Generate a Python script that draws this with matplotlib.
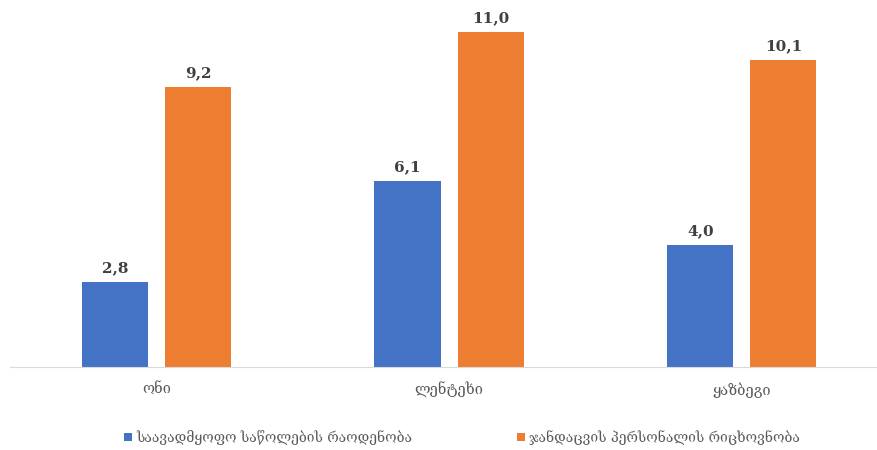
import numpy as np
import matplotlib.pyplot as plt

regions = ["ონი", "ლენტეხი", "ყაზბეგი"]
beds = [2.8, 6.1, 4.0]
staff = [9.2, 11.0, 10.1]
series_names = ["საავადმყოფო საწოლების რაოდენობა", "ჯანდაცვის პერსონალის რიცხოვნობა"]

BLUE = "#4472C4"
ORANGE = "#ED7D31"

plt.rcParams['font.family'] = ['DejaVu Serif', 'DejaVu Sans']

fig = plt.figure(figsize=(8.77, 4.5), dpi=100)
ax = fig.add_axes([10 / 877, 83 / 450, 867 / 877, 365 / 450])

x = np.arange(len(regions))
w = 0.226
off = 0.142
b1 = ax.bar(x - off, beds, w, color=BLUE, label=series_names[0])
b2 = ax.bar(x + off, staff, w, color=ORANGE, label=series_names[1])

for bars, vals in ((b1, beds), (b2, staff)):
    for r, v in zip(bars, vals):
        ax.annotate(f"{v:.1f}".replace(".", ","),
                    (r.get_x() + r.get_width() / 2, v),
                    xytext=(0, 5), textcoords="offset points",
                    ha="center", va="bottom", fontsize=11,
                    fontweight="bold", color="#404040")

ax.set_xlim(-0.5, 2.462)
ax.set_ylim(0, 12)
ax.set_xticks(x)
ax.set_xticklabels(regions, fontsize=10.5, color="#595959")
ax.tick_params(axis="x", length=0, pad=11)
ax.set_yticks([])
for s in ("top", "right", "left"):
    ax.spines[s].set_visible(False)
ax.spines["bottom"].set_color("#D9D9D9")

leg = fig.legend(loc="center", bbox_to_anchor=(0.527, 0.028), ncol=2,
                 frameon=False, fontsize=10, handlelength=0.6,
                 handleheight=0.6, handletextpad=0.3, columnspacing=7.5)
for t in leg.get_texts():
    t.set_color("#595959")

fig.savefig("out.png", dpi=100)
